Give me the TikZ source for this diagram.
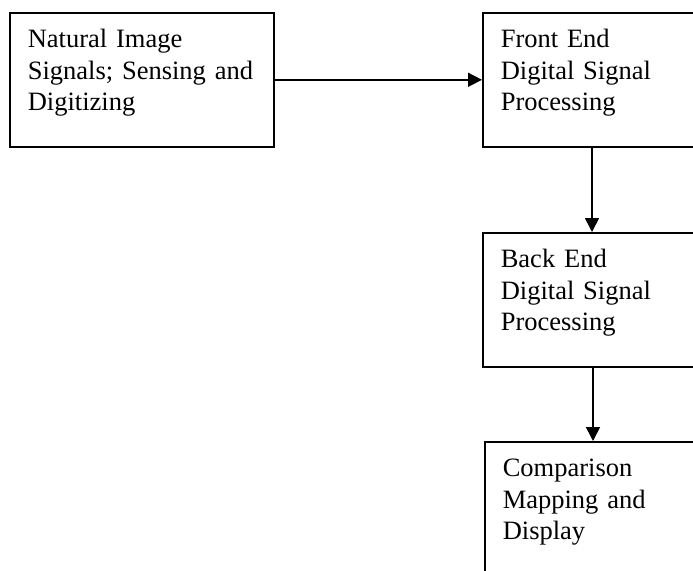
\documentclass[tikz,border=0pt]{standalone}
\usepackage{fontspec}
\setmainfont{Liberation Serif}
\usetikzlibrary{arrows.meta}

\tikzset{
    stage/.style={draw, line width=1.6pt, anchor=north west, align=left,
        inner xsep=18pt, inner ysep=0pt, text width=228pt,
        text height=35pt, text depth=99pt,
        font=\fontsize{26.5}{31.5}\selectfont},
    flow/.style={line width=1.6pt, -{Triangle[length=14pt,width=14pt]}}
}

\begin{document}
\begin{tikzpicture}[x=1pt, y=-1pt]
        \useasboundingbox (0,0) rectangle (693,570);
        \clip (0,0) rectangle (693,570);
        \fill[white] (0,0) rectangle (693,570);
        \node[stage] (natural) at (9,12) {Natural~Image\\Signals;~Sensing~and\\Digitizing};
        \node[stage] (front) at (482,12) {Front~End\\Digital~Signal\\Processing};
        \node[stage] (back) at (482,232) {Back~End\\Digital~Signal\\Processing};
        \node[stage] (compare) at (484,441) {Comparison\\Mapping~and\\Display};
        \draw[flow] (natural.east) -- (front.west);
        \draw[flow] ([xshift=110pt]front.south west) -- ([xshift=110pt]back.north west);
        \draw[flow] ([xshift=111pt]back.south west) -- ([xshift=109pt]compare.north west);
    \end{tikzpicture}
\end{document}
